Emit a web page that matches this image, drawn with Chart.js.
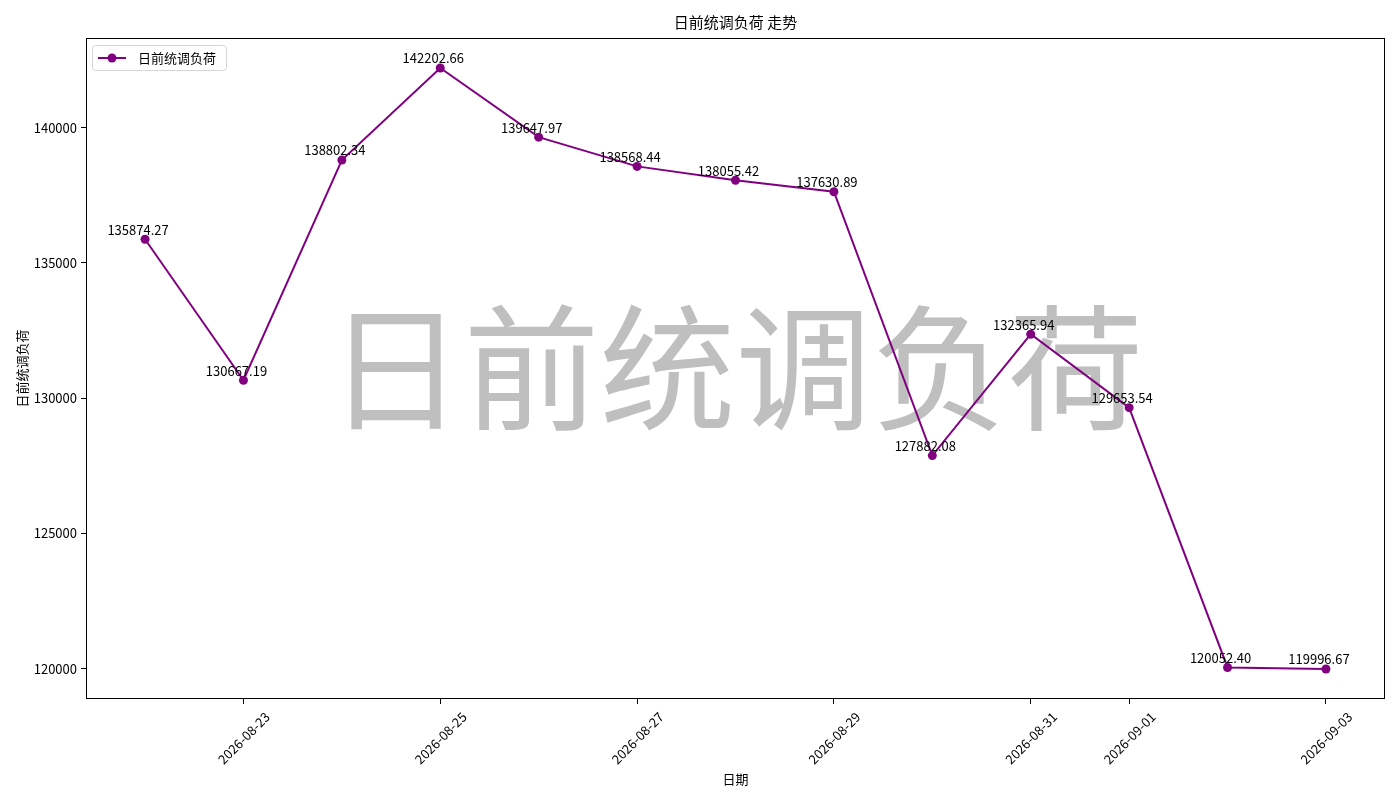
<!DOCTYPE html>
<html>
<head>
<meta charset="utf-8">
<script src="https://cdn.jsdelivr.net/npm/chart.js@4.4.1/dist/chart.umd.min.js"></script>
<style>
  html, body { margin: 0; padding: 0; background: #fff; }
  #wrap { width: 1400px; height: 800px; }
</style>
</head>
<body>
<div id="wrap"><canvas id="myChart"></canvas></div>
<script>
const dates = ["2026-08-22", "2026-08-23", "2026-08-24", "2026-08-25", "2026-08-26", "2026-08-27", "2026-08-28",
  "2026-08-29", "2026-08-30", "2026-08-31", "2026-09-01", "2026-09-02", "2026-09-03"];
const loadValues = [135874.27, 130667.19, 138802.34, 142202.66, 139647.97, 138568.44, 138055.42,
  137630.89, 127882.08, 132365.94, 129653.54, 120052.40, 119996.67];
const xTickLabels = ["2026-08-23", "2026-08-25", "2026-08-27", "2026-08-29", "2026-08-31", "2026-09-01", "2026-09-03"];
const yTicks = [120000, 125000, 130000, 135000, 140000];

const seriesName = "日前统调负荷";
const titleText = "日前统调负荷 走势";
const FONT = "'Noto Sans CJK SC', 'Noto Sans', sans-serif";
const purple = "#800080";

const dayMs = 24 * 3600 * 1000;
const start = Date.parse(dates[0]);
const dayIndex = d => Math.round((Date.parse(d) - start) / dayMs);

const points = dates.map((d, i) => ({ x: dayIndex(d), y: loadValues[i] }));
const xTickPos = xTickLabels.map(dayIndex);

// matplotlib style 5% margins
const xMaxIdx = dayIndex(dates[dates.length - 1]);
const xPad = xMaxIdx * 0.05;
const yLo = Math.min(...loadValues), yHi = Math.max(...loadValues);
const yPad = (yHi - yLo) * 0.05;

const watermark = {
  id: "watermark",
  beforeDatasetsDraw(chart) {
    const { ctx, chartArea: a } = chart;
    ctx.save();
    ctx.fillStyle = "rgba(128,128,128,0.5)";
    ctx.font = "136px " + FONT;
    ctx.textAlign = "center";
    ctx.textBaseline = "middle";
    ctx.fillText(seriesName, (a.left + a.right) / 2, (a.top + a.bottom) / 2);
    ctx.restore();
  }
};

const valueLabels = {
  id: "valueLabels",
  afterDatasetsDraw(chart) {
    const { ctx } = chart;
    const meta = chart.getDatasetMeta(0);
    ctx.save();
    ctx.fillStyle = "#000";
    ctx.font = "13px " + FONT;
    ctx.textAlign = "center";
    ctx.textBaseline = "bottom";
    meta.data.forEach((pt, i) => {
      ctx.fillText(loadValues[i].toFixed(2), pt.x - 7, pt.y - 3);
    });
    ctx.restore();
  }
};

const frameAndLegend = {
  id: "frameAndLegend",
  afterDraw(chart) {
    const { ctx, chartArea: a } = chart;
    ctx.save();
    ctx.strokeStyle = "#000";
    ctx.lineWidth = 1;
    ctx.strokeRect(a.left + 0.5, a.top + 0.5, a.right - a.left - 1, a.bottom - a.top - 1);

    // title
    ctx.fillStyle = "#000";
    ctx.font = "15px " + FONT;
    ctx.textAlign = "center";
    ctx.textBaseline = "middle";
    ctx.fillText(titleText, (a.left + a.right) / 2, 22);

    // legend
    const bx = a.left + 6, by = a.top + 7, bw = 134, bh = 25;
    ctx.beginPath();
    ctx.roundRect(bx + 0.5, by + 0.5, bw, bh, 3);
    ctx.fillStyle = "rgba(255,255,255,0.8)";
    ctx.fill();
    ctx.strokeStyle = "#d6d6d6";
    ctx.stroke();
    const ly = by + bh / 2 + 0.5;
    ctx.beginPath();
    ctx.moveTo(bx + 6, ly);
    ctx.lineTo(bx + 34, ly);
    ctx.strokeStyle = purple;
    ctx.lineWidth = 2;
    ctx.stroke();
    ctx.beginPath();
    ctx.arc(bx + 20, ly, 4.5, 0, Math.PI * 2);
    ctx.fillStyle = purple;
    ctx.fill();
    ctx.fillStyle = "#000";
    ctx.font = "13px " + FONT;
    ctx.textAlign = "left";
    ctx.fillText(seriesName, bx + 46, ly);
    ctx.restore();
  }
};

const ctx = document.getElementById("myChart");

new Chart(ctx, {
  type: "line",
  data: {
    datasets: [{
      label: seriesName,
      data: points,
      borderColor: purple,
      backgroundColor: purple,
      borderWidth: 2,
      pointRadius: 4.5,
      pointHoverRadius: 4.5,
      pointBackgroundColor: purple,
      pointBorderWidth: 0,
      tension: 0
    }]
  },
  options: {
    responsive: true,
    maintainAspectRatio: false,
    animation: false,
    events: [],
    layout: { padding: { top: 38, right: 15, left: 0, bottom: 0 } },
    plugins: {
      legend: { display: false },
      title: { display: false },
      tooltip: { enabled: false }
    },
    scales: {
      x: {
        type: "linear",
        min: -xPad,
        max: xMaxIdx + xPad,
        afterFit(scale) { scale.height = 101; },
        afterBuildTicks(scale) {
          scale.ticks = xTickPos.map(v => ({ value: v }));
        },
        grid: { drawOnChartArea: false, drawTicks: true, tickLength: 5, color: "#000" },
        border: { display: false },
        ticks: {
          color: "#000",
          font: { family: FONT, size: 13 },
          minRotation: 45,
          maxRotation: 45,
          autoSkip: false,
          labelOffset: 24,
          padding: 5,
          callback: (v) => {
            const i = xTickPos.indexOf(v);
            return i >= 0 ? xTickLabels[i] : "";
          }
        },
        title: {
          display: true,
          text: "日期",
          color: "#000",
          font: { family: FONT, size: 13 },
          padding: { top: 0, bottom: 13 }
        }
      },
      y: {
        min: yLo - yPad,
        max: yHi + yPad,
        afterFit(scale) { scale.width = 86; },
        afterBuildTicks(scale) {
          scale.ticks = yTicks.map(v => ({ value: v }));
        },
        grid: { drawOnChartArea: false, drawTicks: true, tickLength: 5, color: "#000" },
        border: { display: false },
        ticks: {
          color: "#000",
          font: { family: FONT, size: 13 },
          padding: 4,
          callback: v => String(v)
        },
        title: {
          display: true,
          text: seriesName,
          color: "#000",
          font: { family: FONT, size: 13 },
          padding: { top: 14, bottom: 0 }
        }
      }
    }
  },
  plugins: [watermark, valueLabels, frameAndLegend]
});
</script>
</body>
</html>
